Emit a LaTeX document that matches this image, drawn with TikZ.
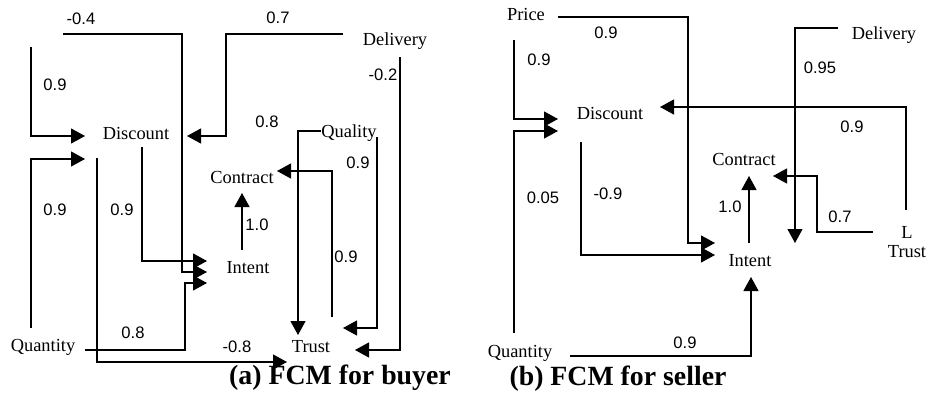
\documentclass[tikz,border=0pt]{standalone}
\usepackage{fontspec}
\setmainfont{Liberation Serif}
\newfontfamily\lblsans{Liberation Sans}
\usetikzlibrary{arrows.meta}
\tikzset{
  concept/.style={inner sep=0pt, font=\fontsize{9.2}{9.6}\selectfont, align=center},
  wlabel/.style={inner sep=0pt, font=\lblsans\fontsize{8.3}{10}\selectfont},
  caption/.style={inner sep=0pt, font=\bfseries\fontsize{13.9}{16}\selectfont},
  edge/.style={draw, line width=0.6pt},
  arr/.style={edge, -{Triangle[length=7pt,width=7.5pt]}}
}
\begin{document}
\begin{tikzpicture}[x=0.5pt,y=-0.5pt]
\useasboundingbox (0,0) rectangle (928,407);
% ---------- panel (a) ----------
\node[concept] (disA) at (136,133) {Discount};
\node[concept] (conA) at (242,177) {Contract};
\node[concept] (intA) at (248,268) {Intent};
\node[concept] (quaA) at (349,133) {Quality};
\node[concept] (delA) at (395,41) {Delivery};
\node[concept] (truA) at (311,347) {Trust};
\node[concept] (qtyA) at (43,347) {Quantity};
\node[caption] (capA) at (340,378) {(a) FCM for buyer};

\coordinate (a1s) at (63,34);   \coordinate (a1e) at (207,272);
\coordinate (a2s) at (31,47);   \coordinate (a2e) at (85,136);
\coordinate (a3s) at (31,328);  \coordinate (a3e) at (85,159);
\coordinate (a4s) at (343,34);  \coordinate (a4e) at (187,136);
\coordinate (a5s) at (142,147); \coordinate (a5e) at (207,261);
\coordinate (a6s) at (97,158);  \coordinate (a6e) at (287,362);
\coordinate (a7s) at (85,350);  \coordinate (a7e) at (207,283);
\coordinate (a8s) at (242,250); \coordinate (a8e) at (242,193);
\coordinate (a9s) at (332,317); \coordinate (a9e) at (277,171);
\coordinate (a10s) at (321,131); \coordinate (a10e) at (298,335);
\coordinate (a11s) at (377,137); \coordinate (a11e) at (343,328);
\coordinate (a12s) at (400,57);  \coordinate (a12e) at (355,350);

\draw[arr] (a1s) -- (182,34) -- (182,272) -- (a1e);
\draw[arr] (a2s) -- (31,136) -- (a2e);
\draw[arr] (a3s) -- (31,159) -- (a3e);
\draw[arr] (a4s) -- (226,34) -- (226,136) -- (a4e);
\draw[arr] (a5s) -- (142,261) -- (a5e);
\draw[arr] (a6s) -- (97,362) -- (a6e);
\draw[arr] (a7s) -- (185,350) -- (185,283) -- (a7e);
\draw[arr] (a8s) -- (a8e);
\draw[arr] (a9s) -- (332,171) -- (a9e);
\draw[arr] (a10s) -- (298,131) -- (a10e);
\draw[arr] (a11s) -- (377,328) -- (a11e);
\draw[arr] (a12s) -- (400,350) -- (a12e);

\node[wlabel] (la1) at (81,19) {-0.4};
\node[wlabel] (la2) at (55,85) {0.9};
\node[wlabel] (la3) at (55,210) {0.9};
\node[wlabel] (la4) at (278,18) {0.7};
\node[wlabel] (la5) at (122,210) {0.9};
\node[wlabel] (la6) at (237,347) {-0.8};
\node[wlabel] (la7) at (133,333) {0.8};
\node[wlabel] (la8) at (257,225) {1.0};
\node[wlabel] (la9) at (346,257) {0.9};
\node[wlabel] (la10) at (267,122) {0.8};
\node[wlabel] (la11) at (358,163) {0.9};
\node[wlabel] (la12) at (383,75) {-0.2};

% ---------- panel (b) ----------
\node[concept] (priB) at (526,14) {Price};
\node[concept] (disB) at (610,113) {Discount};
\node[concept] (conB) at (744,159) {Contract};
\node[concept] (intB) at (750,261) {Intent};
\node[concept] (delB) at (884,35) {Delivery};
\node[concept] (truB) at (907,242) {L\\Trust};
\node[concept] (qtyB) at (520,353) {Quantity};
\node[caption] (capB) at (618,379) {(b) FCM for seller};

\coordinate (b1s) at (558,17);  \coordinate (b1e) at (715,243);
\coordinate (b2s) at (514,40);  \coordinate (b2e) at (558,119);
\coordinate (b3s) at (514,333); \coordinate (b3e) at (558,131);
\coordinate (b4s) at (581,142); \coordinate (b4e) at (715,255);
\coordinate (b5s) at (906,210); \coordinate (b5e) at (660,107);
\coordinate (b6s) at (838,28);  \coordinate (b6e) at (795,243);
\coordinate (b7s) at (749,243); \coordinate (b7e) at (749,176);
\coordinate (b8s) at (873,232); \coordinate (b8e) at (773,176);
\coordinate (b9s) at (570,356); \coordinate (b9e) at (751,277);

\draw[arr] (b1s) -- (688,17) -- (688,243) -- (b1e);
\draw[arr] (b2s) -- (514,119) -- (b2e);
\draw[arr] (b3s) -- (514,131) -- (b3e);
\draw[arr] (b4s) -- (581,255) -- (b4e);
\draw[arr] (b5s) -- (906,107) -- (b5e);
\draw[arr] (b6s) -- (795,28) -- (b6e);
\draw[arr] (b7s) -- (b7e);
\draw[arr] (b8s) -- (817,232) -- (817,176) -- (b8e);
\draw[arr] (b9s) -- (751,356) -- (b9e);

\node[wlabel] (lb1) at (606,33) {0.9};
\node[wlabel] (lb2) at (539,60) {0.9};
\node[wlabel] (lb3) at (543,198) {0.05};
\node[wlabel] (lb4) at (608,194) {-0.9};
\node[wlabel] (lb5) at (852,127) {0.9};
\node[wlabel] (lb6) at (820,68) {0.95};
\node[wlabel] (lb7) at (730,207) {1.0};
\node[wlabel] (lb8) at (840,217) {0.7};
\node[wlabel] (lb9) at (685,343) {0.9};
\end{tikzpicture}
\end{document}
